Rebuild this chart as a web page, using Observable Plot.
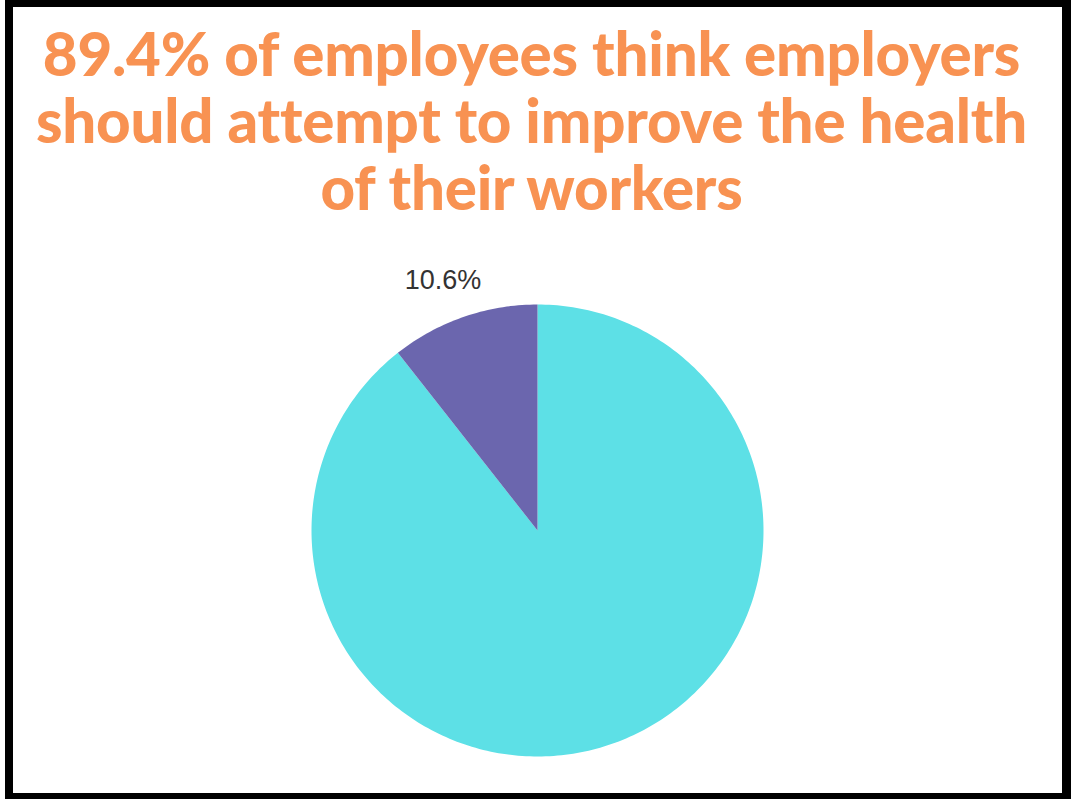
<!DOCTYPE html>
<html>
<head>
<meta charset="utf-8">
<script src="https://cdn.jsdelivr.net/npm/d3@7"></script>
<script src="https://cdn.jsdelivr.net/npm/@observablehq/plot@0.6"></script>
<style>
  html, body { margin: 0; padding: 0; background: #fff; width: 1071px; height: 799px; overflow: hidden; }
  #frame { position: absolute; left: 5px; top: 0; width: 1066px; height: 799px; box-sizing: border-box;
           border-style: solid; border-color: #000; border-width: 7px 9px 6px 8px; z-index: 2; pointer-events: none; }
  #title { position: absolute; left: 7px; width: 1049px; top: 20px; text-align: center;
           font-family: Lato, "Open Sans", sans-serif; font-weight: 900; font-size: 60px; line-height: 67px;
           color: #F89252; letter-spacing: -0.2px; }
  #chart { position: absolute; left: 0; top: 240px; }
</style>
</head>
<body>
<div id="frame"></div>
<div id="title">89.4% of employees think employers<br>should attempt to improve the health<br>of their workers</div>
<div id="chart"></div>
<script>
// Data
const categories = ["Yes", "No"];
const values = [89.4, 10.6];
const colors = ["#5DE0E6", "#6B66AE"];
const labeledCategories = ["No"];

// Build pie slices (clockwise from 12 o'clock) from the values
const total = d3.sum(values);
const slicePoints = [];
const labelRows = [];
let start = 0;
categories.forEach((cat, i) => {
  const a0 = start;
  const a1 = start + (values[i] / total) * 2 * Math.PI;
  slicePoints.push({cat, x: 0, y: 0});
  const steps = Math.max(2, Math.ceil((a1 - a0) / (Math.PI / 180)));
  for (let k = 0; k <= steps; k++) {
    const a = a0 + (a1 - a0) * k / steps;
    slicePoints.push({cat, x: Math.sin(a), y: Math.cos(a)});
  }
  if (labeledCategories.includes(cat)) {
    const m = (a0 + a1) / 2;
    const r = 1.17;
    labelRows.push({cat, x: r * Math.sin(m), y: r * Math.cos(m), text: values[i].toFixed(1) + "%"});
  }
  start = a1;
});

const cx = 537, cy = 290, R = 226;
const chart = Plot.plot({
  width: 1071,
  height: 540,
  margin: 0,
  style: {background: "transparent", overflow: "visible"},
  x: {domain: [-1, 1], range: [cx - R, cx + R], axis: null},
  y: {domain: [-1, 1], range: [cy + R, cy - R], axis: null},
  color: {domain: categories, range: colors},
  marks: [
    Plot.line(slicePoints, {x: "x", y: "y", z: "cat", fill: "cat", stroke: "none", curve: "linear"}),
    Plot.text(labelRows, {x: "x", y: "y", text: "text", fontSize: 27, fill: "#333", dx: -8,
      fontFamily: "Liberation Sans, Arial, sans-serif"})
  ]
});
document.getElementById("chart").appendChild(chart);
</script>
</body>
</html>
